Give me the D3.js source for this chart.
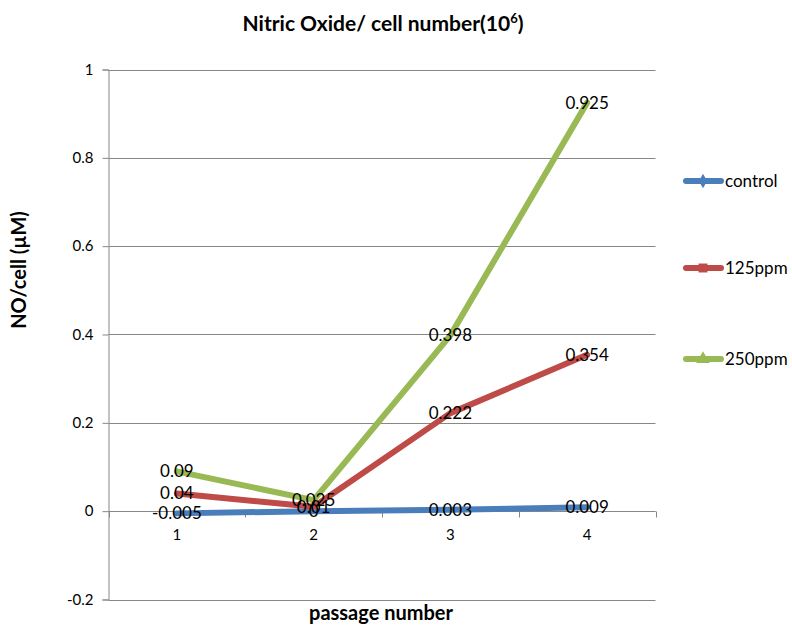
<!DOCTYPE html>
<html>
<head>
<meta charset="utf-8">
<script src="https://cdn.jsdelivr.net/npm/d3@7"></script>
<style>
  html, body { margin: 0; padding: 0; background: #fff; }
  svg { display: block; font-family: "Lato", "Liberation Sans", sans-serif; }
</style>
</head>
<body>
<svg id="chart" width="792" height="626"></svg>
<script>
// Passage numbers on the x axis
const passages = ["1", "2", "3", "4"];
// Nitric oxide per cell for each treatment
const controlValues = [-0.005, 0, 0.003, 0.009];
const ppm125Values = [0.04, 0.01, 0.222, 0.354];
const ppm250Values = [0.09, 0.025, 0.398, 0.925];
const seriesNames = ["control", "125ppm", "250ppm"];
const seriesColors = ["#4A7EBB", "#BE4B48", "#98B954"];
const markerShapes = ["diamond", "square", "triangle"];
// Value axis ticks
const yTicks = [-0.2, 0, 0.2, 0.4, 0.6, 0.8, 1];

const series = [controlValues, ppm125Values, ppm250Values].map((values, i) => ({
  name: seriesNames[i],
  color: seriesColors[i],
  shape: markerShapes[i],
  points: values.map((v, j) => ({ cat: passages[j], value: v }))
}));

// Plain hyphen-minus for negative numbers
const fmt = v => String(+v.toFixed(3));

const svg = d3.select("#chart");
const plotLeft = 108.5, plotRight = 655.5, plotTop = 69.5, plotBottom = 599.5;
const gridColor = "#878787";

const x = d3.scaleBand().domain(passages).range([plotLeft, plotRight]).padding(0);
const y = d3.scaleLinear().domain([-0.2, 1]).range([plotBottom, plotTop]);
const cx = c => x(c) + x.bandwidth() / 2;

// Horizontal gridlines
svg.append("g")
  .selectAll("line")
  .data(yTicks)
  .join("line")
  .attr("x1", plotLeft).attr("x2", plotRight)
  .attr("y1", d => Math.round(y(d)) + 0.5).attr("y2", d => Math.round(y(d)) + 0.5)
  .attr("stroke", gridColor).attr("stroke-width", 1);

// Value axis
const yAxis = svg.append("g")
  .attr("transform", `translate(${plotLeft},0)`)
  .call(d3.axisLeft(y).tickValues(yTicks).tickSize(6).tickPadding(9).tickFormat(fmt));
yAxis.select(".domain").attr("stroke", gridColor);
yAxis.selectAll(".tick line").attr("stroke", gridColor);
yAxis.selectAll(".tick text").attr("font-size", 15).attr("fill", "#000")
  .attr("font-family", "Lato, sans-serif");

// Category axis sits on the zero line
const zeroY = Math.round(y(0)) + 0.5;
const xAxisG = svg.append("g").attr("transform", `translate(0,${zeroY})`);
xAxisG.append("line").attr("x1", plotLeft).attr("x2", plotRight)
  .attr("stroke", gridColor).attr("stroke-width", 1);
const bounds = passages.map(p => x(p)).concat([plotRight]);
xAxisG.selectAll("line.tk")
  .data(bounds)
  .join("line").attr("class", "tk")
  .attr("x1", d => Math.round(d) + 0.5).attr("x2", d => Math.round(d) + 0.5)
  .attr("y1", 0).attr("y2", 6)
  .attr("stroke", gridColor);
xAxisG.selectAll("text")
  .data(passages)
  .join("text")
  .attr("x", d => cx(d)).attr("y", 28)
  .attr("text-anchor", "middle").attr("font-size", 15).attr("fill", "#000")
  .text(d => d);

// Series lines
const line = d3.line().x(d => cx(d.cat)).y(d => y(d.value));
svg.append("g")
  .selectAll("path")
  .data(series)
  .join("path")
  .attr("d", d => line(d.points))
  .attr("fill", "none")
  .attr("stroke", d => d.color)
  .attr("stroke-width", 6)
  .attr("stroke-linejoin", "round")
  .attr("stroke-linecap", "round");

// Data labels centred on each point
const labels = svg.append("g");
series.forEach(s => {
  labels.selectAll(null)
    .data(s.points)
    .join("text")
    .attr("x", d => cx(d.cat))
    .attr("y", d => y(d.value))
    .attr("dy", "0.35em")
    .attr("text-anchor", "middle")
    .attr("font-size", 17)
    .attr("fill", "#000")
    .text(d => fmt(d.value));
});

// Legend
const symbolTypes = { diamond: d3.symbolDiamond, square: d3.symbolSquare, triangle: d3.symbolTriangle };
const legendY = [181, 268, 359];
const legend = svg.append("g");
series.forEach((s, i) => {
  const g = legend.append("g").attr("transform", `translate(0,${legendY[i]})`);
  g.append("line").attr("x1", 686).attr("x2", 721).attr("y1", 0).attr("y2", 0)
    .attr("stroke", s.color).attr("stroke-width", 6).attr("stroke-linecap", "round");
  g.append("path")
    .attr("transform", "translate(703,0)")
    .attr("d", d3.symbol().type(symbolTypes[s.shape]).size(s.shape === "diamond" ? 60 : 80)())
    .attr("fill", s.color);
  g.append("text").attr("x", 725).attr("y", 0).attr("dy", "0.35em")
    .attr("font-size", 17).attr("fill", "#000").text(s.name);
});

// Chart title
const title = svg.append("text")
  .attr("x", 383).attr("y", 31)
  .attr("text-anchor", "middle").attr("font-size", 21).attr("font-weight", "bold")
  .attr("fill", "#000");
title.append("tspan").text("Nitric Oxide/ cell number(10");
title.append("tspan").attr("font-size", 13).attr("dy", -8).text("6");
title.append("tspan").attr("dy", 8).text(")");

// Axis titles
svg.append("text")
  .attr("transform", "translate(26,270) rotate(-90)")
  .attr("text-anchor", "middle").attr("font-size", 20).attr("font-weight", "bold")
  .attr("fill", "#000").text("NO/cell (µM)");
svg.append("text")
  .attr("x", 381).attr("y", 620)
  .attr("text-anchor", "middle").attr("font-size", 20).attr("font-weight", "bold")
  .attr("fill", "#000").text("passage number");
</script>
</body>
</html>
